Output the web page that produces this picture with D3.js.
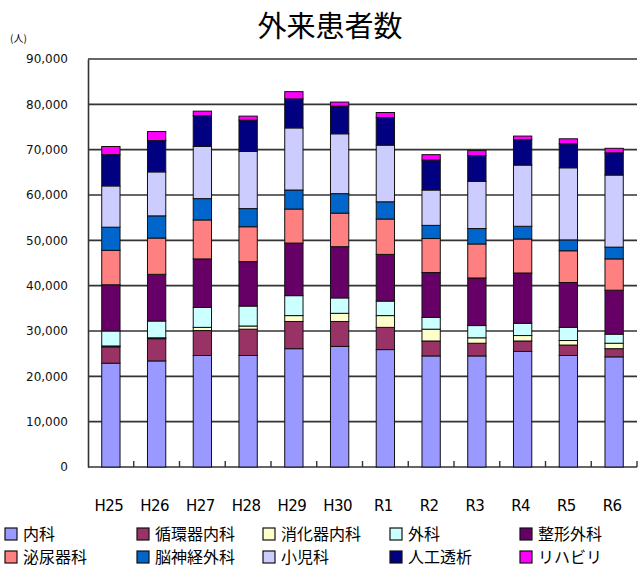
<!DOCTYPE html>
<html>
<head>
<meta charset="utf-8">
<script src="https://cdn.jsdelivr.net/npm/d3@7"></script>
<style>
body { margin: 0; background: #fff; }
svg { display: block; }
</style>
</head>
<body>
<div id="viz"></div>
<script>
'use strict';

var years = ['H25', 'H26', 'H27', 'H28', 'H29', 'H30', 'R1', 'R2', 'R3', 'R4', 'R5', 'R6'];
var naika      = [22900, 23400, 24600, 24600, 26100, 26600, 25900, 24500, 24500, 25500, 24600, 24300];
var junkanki   = [3600, 4900, 5500, 5800, 6000, 5500, 4900, 3300, 2800, 2300, 2300, 1800];
var shokaki    = [200, 200, 700, 700, 1300, 1800, 2600, 2600, 1200, 1200, 1000, 1200];
var geka       = [3300, 3700, 4400, 4400, 4400, 3400, 3200, 2600, 2700, 2700, 2900, 2000];
var seikei     = [10200, 10300, 10700, 9800, 11600, 11300, 10300, 9900, 10500, 11100, 9900, 9700];
var hinyoki    = [7600, 8000, 8600, 7700, 7500, 7400, 7800, 7500, 7500, 7500, 7000, 6900];
var noshinkei  = [5100, 4900, 4700, 4000, 4200, 4300, 3800, 2900, 3400, 2800, 2400, 2600];
var shonika    = [9100, 9700, 11500, 12600, 13700, 13200, 12500, 7800, 10400, 13500, 15900, 15900];
var toseki     = [6900, 6900, 6800, 6900, 6400, 6100, 6100, 6600, 5700, 5600, 5300, 4900];
var reha       = [1800, 2000, 1000, 900, 1600, 900, 1100, 1200, 1100, 800, 1100, 1000];

var seriesNames = ['内科', '循環器内科', '消化器内科', '外科', '整形外科',
    '泌尿器科', '脳神経外科', '小児科', '人工透析', 'リハビリ'];
var seriesValues = [naika, junkanki, shokaki, geka, seikei,
    hinyoki, noshinkei, shonika, toseki, reha];
var colors = ['#9999ff', '#993366', '#ffffcc', '#ccffff', '#660066',
    '#ff8080', '#0066cc', '#ccccff', '#000080', '#ff00ff'];
var yTicks = [0, 10000, 20000, 30000, 40000, 50000, 60000, 70000, 80000, 90000];

var width = 640,
    height = 569;
var plotLeft = 88, plotRight = 637, plotTop = 59, plotBottom = 467;

var rows = years.map(function(y, i) {
    var r = {year: y};
    seriesNames.forEach(function(s, j) { r[s] = seriesValues[j][i]; });
    return r;
});
var stacked = d3.stack().keys(seriesNames)(rows);

var x = d3.scaleBand().domain(years).range([plotLeft, plotRight]).paddingInner(0.6).paddingOuter(0.3);
var xTick = d3.scaleBand().domain(years).range([plotLeft, plotRight]);
var y = d3.scaleLinear().domain([0, 90000]).range([plotBottom, plotTop]);
var color = d3.scaleOrdinal().domain(seriesNames).range(colors);

var svg = d3.select('#viz').append('svg')
    .attr('width', width)
    .attr('height', height);

svg.append('text')
    .attr('x', 330)
    .attr('y', 37)
    .attr('text-anchor', 'middle')
    .style('font-family', '"Noto Sans CJK JP"')
    .style('font-size', '29px')
    .text('外来患者数');

svg.append('text')
    .attr('x', 10)
    .attr('y', 42)
    .style('font-family', '"Noto Sans CJK JP"')
    .style('font-size', '10px')
    .text('(人)');

// gridlines
svg.append('g')
    .selectAll('line')
    .data(yTicks)
    .enter().append('line')
    .attr('x1', plotLeft)
    .attr('x2', plotRight)
    .attr('y1', d => y(d))
    .attr('y2', d => y(d))
    .attr('stroke', '#333')
    .attr('stroke-width', 1.6);

// y axis
var yAxis = svg.append('g')
    .attr('transform', 'translate(' + plotLeft + ',0)')
    .call(d3.axisLeft(y).tickValues(yTicks).tickSize(0).tickPadding(20)
        .tickFormat(d3.format(',')));
yAxis.select('.domain').attr('stroke', '#333').attr('stroke-width', 1.6);
yAxis.selectAll('text')
    .style('font-family', '"DejaVu Sans"')
    .style('font-size', '12px')
    .attr('fill', '#111');

// x axis with inside ticks between bars
var xAxisG = svg.append('g').attr('transform', 'translate(0,' + plotBottom + ')');
xAxisG.selectAll('line.tick')
    .data(years)
    .enter().append('line')
    .attr('class', 'tick')
    .attr('x1', d => xTick(d) + xTick.bandwidth())
    .attr('x2', d => xTick(d) + xTick.bandwidth())
    .attr('y1', 0)
    .attr('y2', -6)
    .attr('stroke', '#333')
    .attr('stroke-width', 1.4);
xAxisG.selectAll('text')
    .data(years)
    .enter().append('text')
    .attr('x', d => xTick(d) + xTick.bandwidth() / 2 - 2)
    .attr('y', 44)
    .attr('text-anchor', 'middle')
    .style('font-family', '"DejaVu Sans"')
    .style('font-size', '15px')
    .style('letter-spacing', '-0.5px')
    .text(d => d);

// bars
svg.append('g')
    .selectAll('g')
    .data(stacked)
    .enter().append('g')
    .attr('fill', d => color(d.key))
    .selectAll('rect')
    .data(d => d)
    .enter().append('rect')
    .attr('x', d => x(d.data.year))
    .attr('width', x.bandwidth())
    .attr('y', d => y(d[1]))
    .attr('height', d => y(d[0]) - y(d[1]))
    .attr('stroke', '#111')
    .attr('stroke-width', 1);

// legend, two rows of five
var legendX = [5, 137, 263, 390, 520];
var legend = svg.append('g')
    .selectAll('g')
    .data(seriesNames)
    .enter().append('g')
    .attr('transform', (d, i) => 'translate(' + legendX[i % 5] + ',' + (528 + Math.floor(i / 5) * 23) + ')');
legend.append('rect')
    .attr('width', 12)
    .attr('height', 12)
    .attr('fill', d => color(d))
    .attr('stroke', '#111')
    .attr('stroke-width', 1.2);
legend.append('text')
    .attr('x', 18)
    .attr('y', 12)
    .style('font-family', '"Noto Sans CJK JP"')
    .style('font-size', '16px')
    .text(d => d);
</script>
</body>
</html>
